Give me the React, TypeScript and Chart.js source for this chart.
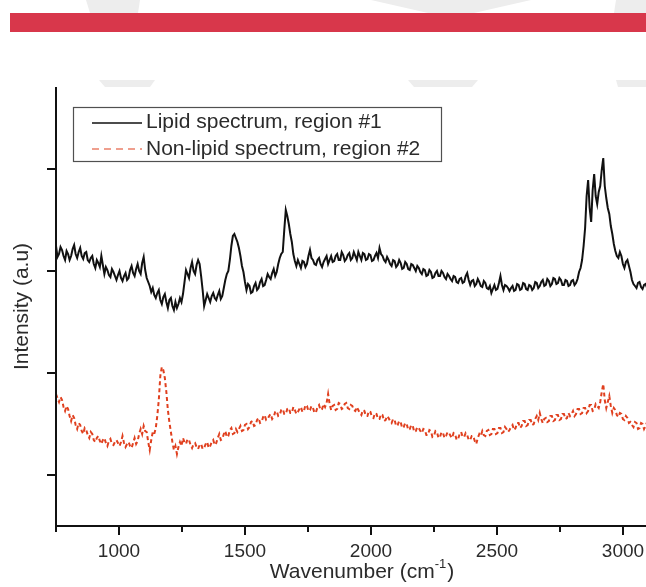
import { useEffect, useRef } from "react";
import { Chart, registerables } from "chart.js";

Chart.register(...registerables);

// Wavenumber grid (cm^-1) on which both spectra were sampled
const WN_START = 750;
const WN_STEP = 6;

// Intensity (a.u.) of the lipid spectrum, region #1
const LIPID = [
  280, 269, 272, 279, 276, 270, 266, 275, 272, 266, 270, 277, 281, 272, 268, 274, 278, 270, 267, 273,
  274, 266, 264, 268, 270, 262, 258, 266, 263, 259, 270, 261, 252, 259, 256, 251, 249, 257, 254, 250,
  246, 251, 255, 248, 245, 250, 253, 246, 248, 256, 260, 253, 250, 257, 262, 255, 252, 263, 269, 256,
  248, 244, 240, 234, 238, 231, 228, 233, 236, 226, 222, 229, 232, 224, 218, 226, 228, 220, 216, 224,
  218, 222, 228, 224, 232, 244, 256, 252, 248, 258, 264, 255, 252, 261, 266, 262, 250, 236, 220, 226,
  232, 228, 224, 230, 233, 228, 226, 231, 235, 227, 230, 238, 246, 252, 255, 266, 280, 290, 292, 288,
  284, 278, 270, 260, 254, 244, 236, 242, 240, 233, 234, 240, 243, 236, 238, 244, 247, 240, 241, 246,
  252, 249, 247, 253, 257, 250, 254, 262, 268, 272, 274, 296, 316, 310, 302, 292, 284, 272, 265, 260,
  266, 262, 258, 265, 264, 259, 262, 270, 276, 268, 266, 262, 261, 266, 268, 262, 259, 264, 267, 270,
  262, 266, 270, 264, 265, 270, 272, 266, 266, 274, 271, 265, 267, 271, 273, 266, 268, 274, 270, 266,
  274, 270, 266, 273, 272, 266, 267, 272, 271, 265, 266, 270, 273, 268, 278, 272, 270, 266, 264, 269,
  266, 262, 260, 266, 265, 259, 261, 266, 263, 257, 258, 264, 262, 257, 256, 262, 261, 258, 255, 260,
  258, 254, 252, 257, 256, 250, 251, 256, 254, 248, 249, 253, 255, 250, 250, 255, 253, 249, 247, 252,
  250, 247, 245, 250, 249, 244, 243, 247, 248, 243, 244, 250, 253, 246, 241, 245, 246, 240, 242, 247,
  244, 240, 239, 245, 243, 238, 237, 240, 233, 237, 241, 236, 237, 243, 250, 241, 236, 241, 240, 238,
  235, 238, 240, 235, 236, 242, 241, 236, 237, 243, 242, 237, 236, 241, 240, 236, 238, 244, 243, 238,
  240, 244, 246, 240, 241, 247, 245, 240, 242, 248, 247, 242, 243, 248, 246, 241, 241, 246, 245, 240,
  241, 245, 246, 241, 243, 247, 254, 258, 266, 280, 298, 330, 346, 318, 304, 336, 352, 330, 322, 334,
  340, 356, 368, 340, 328, 318, 312, 300, 292, 282, 275, 270, 268, 274, 270, 262, 258, 264, 266, 260,
  254, 246, 242, 240, 238, 243, 244, 239, 237, 241, 242, 238, 240, 245, 244,
];

// Intensity (a.u.) of the non-lipid spectrum, region #2
const NON_LIPID = [
  132, 128, 124, 129, 126, 119, 115, 120, 117, 110, 105, 111, 108, 101, 97, 103, 101, 95, 92, 98,
  96, 91, 88, 94, 92, 86, 84, 88, 90, 85, 82, 86, 88, 83, 80, 85, 87, 82, 81, 84,
  86, 83, 80, 84, 90, 83, 79, 82, 84, 80, 78, 83, 88, 82, 85, 92, 97, 92, 100, 95,
  94, 84, 76, 86, 94, 92, 98, 110, 126, 150, 159, 156, 148, 134, 116, 104, 94, 84, 76, 80,
  72, 79, 84, 80, 88, 84, 82, 87, 86, 81, 78, 82, 83, 79, 77, 81, 82, 77, 78, 82,
  84, 78, 80, 84, 86, 81, 83, 88, 92, 86, 87, 92, 95, 89, 90, 96, 98, 92, 93, 97,
  94, 97, 100, 95, 96, 101, 102, 97, 99, 104, 105, 100, 101, 106, 108, 103, 104, 109, 111, 106,
  107, 110, 112, 107, 109, 114, 115, 110, 111, 116, 117, 112, 112, 117, 118, 113, 113, 119, 116, 112,
  114, 117, 119, 114, 115, 121, 120, 115, 116, 120, 118, 113, 114, 119, 121, 116, 117, 122, 119, 123,
  132, 122, 116, 120, 121, 116, 117, 123, 122, 117, 118, 122, 123, 118, 117, 121, 120, 116, 115, 119,
  116, 113, 111, 116, 115, 110, 110, 115, 114, 109, 108, 113, 112, 107, 107, 112, 111, 105, 106, 110,
  108, 105, 103, 107, 106, 100, 101, 105, 104, 98, 99, 103, 102, 96, 97, 101, 100, 94, 95, 99,
  98, 95, 93, 97, 96, 91, 91, 96, 95, 89, 90, 95, 94, 88, 89, 94, 93, 88, 90, 94,
  93, 90, 88, 93, 92, 86, 87, 92, 94, 89, 89, 93, 91, 86, 86, 90, 90, 85, 82, 88,
  92, 90, 95, 91, 90, 95, 96, 91, 92, 97, 97, 92, 93, 98, 98, 93, 94, 99, 97, 94,
  96, 99, 101, 96, 98, 103, 103, 98, 100, 105, 105, 100, 101, 106, 106, 101, 102, 107, 110, 106,
  113, 107, 103, 107, 108, 104, 105, 110, 110, 105, 106, 111, 111, 106, 107, 112, 112, 107, 108, 113,
  110, 112, 115, 110, 112, 117, 117, 112, 113, 118, 118, 113, 115, 121, 121, 115, 116, 122, 120, 118,
  124, 134, 142, 126, 118, 124, 130, 120, 113, 118, 116, 111, 109, 113, 112, 107, 106, 110, 108, 103,
  104, 101, 99, 104, 103, 97, 98, 103, 102, 97, 100, 104, 103, 98, 99,
];

const X_MIN = 750;
const X_MAX = 3179;
const X_TICKS = [750, 1000, 1250, 1500, 1750, 2000, 2250, 2500, 2750, 3000];
const X_TICK_LABELS = ["", "1000", "", "1500", "", "2000", "", "2500", "", "3000"];
const Y_MIN = 0;
const Y_MAX = 439;
const Y_TICKS = [51, 153, 255, 357];

const SERIES_LABELS = ["Lipid spectrum, region #1", "Non-lipid spectrum, region #2"];
const X_TITLE = "Wavenumber (cm";
const X_TITLE_SUP = "-1";
const X_TITLE_END = ")";
const Y_TITLE = "Intensity (a.u)";

const FONT = "'Liberation Sans', Arial, Helvetica, sans-serif";
const TEXT = "#2b2b2b";
const BLACK = "#111111";
const RED = "#e0401f";

const decorPlugin = {
  id: "decor",
  beforeDraw(chart: any) {
    const ctx = chart.ctx as CanvasRenderingContext2D;
    ctx.save();
    ctx.fillStyle = "#ffffff";
    ctx.fillRect(0, 0, chart.width, chart.height);
    // faint watermark fragments
    ctx.fillStyle = "#ededed";
    const polys: number[][][] = [
      [[86, 0], [140, 0], [138, 13], [90, 13]],
      [[371, 0], [531, 0], [474, 13], [428, 13]],
      [[616, 0], [700, 0], [700, 13], [614, 13]],
      [[99, 80], [155, 80], [150, 87], [105, 87]],
      [[408, 80], [478, 80], [472, 87], [414, 87]],
      [[616, 80], [700, 80], [700, 87], [618, 87]],
    ];
    polys.forEach((p) => {
      ctx.beginPath();
      ctx.moveTo(p[0][0], p[0][1]);
      for (let k = 1; k < p.length; k++) ctx.lineTo(p[k][0], p[k][1]);
      ctx.closePath();
      ctx.fill();
    });
    // red banner
    ctx.fillStyle = "#d8374b";
    ctx.fillRect(10, 13, chart.width - 10, 19);
    ctx.restore();
  },
  afterDraw(chart: any) {
    const ctx = chart.ctx as CanvasRenderingContext2D;
    const area = chart.chartArea;
    const xs = chart.scales.x;
    const ys = chart.scales.y;
    ctx.save();
    ctx.strokeStyle = BLACK;
    ctx.lineWidth = 2;
    // axis lines
    ctx.beginPath();
    ctx.moveTo(area.left, area.top);
    ctx.lineTo(area.left, area.bottom + 1);
    ctx.stroke();
    ctx.beginPath();
    ctx.moveTo(area.left - 1, area.bottom);
    ctx.lineTo(area.right, area.bottom);
    ctx.stroke();
    // x ticks + labels
    ctx.fillStyle = TEXT;
    ctx.font = `19px ${FONT}`;
    ctx.textAlign = "center";
    ctx.textBaseline = "alphabetic";
    X_TICKS.forEach((t, i) => {
      const px = Math.round(xs.getPixelForValue(t));
      const major = X_TICK_LABELS[i] !== "";
      ctx.beginPath();
      ctx.moveTo(px, area.bottom);
      ctx.lineTo(px, area.bottom + (major ? 9 : 6));
      ctx.stroke();
      if (major) ctx.fillText(X_TICK_LABELS[i], px, 557);
    });
    // y ticks
    Y_TICKS.forEach((t) => {
      const py = Math.round(ys.getPixelForValue(t));
      ctx.beginPath();
      ctx.moveTo(area.left - 9, py);
      ctx.lineTo(area.left, py);
      ctx.stroke();
    });
    // x title with superscript
    ctx.font = `21px ${FONT}`;
    const supFont = `13px ${FONT}`;
    const w1 = ctx.measureText(X_TITLE).width;
    ctx.font = supFont;
    const w2 = ctx.measureText(X_TITLE_SUP).width;
    ctx.font = `21px ${FONT}`;
    const w3 = ctx.measureText(X_TITLE_END).width;
    const total = w1 + w2 + w3 + 1;
    const cx = (area.left + area.right) / 2;
    let sx = cx - total / 2;
    ctx.textAlign = "left";
    ctx.fillText(X_TITLE, sx, 578);
    sx += w1;
    ctx.font = supFont;
    ctx.fillText(X_TITLE_SUP, sx, 568);
    sx += w2 + 1;
    ctx.font = `21px ${FONT}`;
    ctx.fillText(X_TITLE_END, sx, 578);
    // y title
    ctx.save();
    ctx.translate(22, (area.top + area.bottom) / 2);
    ctx.rotate(-Math.PI / 2);
    ctx.textAlign = "center";
    ctx.textBaseline = "middle";
    ctx.fillText(Y_TITLE, 0, 0);
    ctx.restore();
    // legend
    ctx.strokeStyle = "#505050";
    ctx.lineWidth = 1.2;
    ctx.strokeRect(73.5, 107.5, 368, 54);
    ctx.lineWidth = 1.6;
    ctx.strokeStyle = BLACK;
    ctx.setLineDash([]);
    ctx.beginPath();
    ctx.moveTo(92, 123);
    ctx.lineTo(142, 123);
    ctx.stroke();
    ctx.strokeStyle = RED;
    ctx.lineWidth = 1.2;
    ctx.setLineDash([7, 5]);
    ctx.beginPath();
    ctx.moveTo(92, 149);
    ctx.lineTo(142, 149);
    ctx.stroke();
    ctx.setLineDash([]);
    ctx.fillStyle = TEXT;
    ctx.font = `21px ${FONT}`;
    ctx.textAlign = "left";
    ctx.textBaseline = "alphabetic";
    ctx.fillText(SERIES_LABELS[0], 146, 128);
    ctx.fillText(SERIES_LABELS[1], 146, 155);
    ctx.restore();
  },
};

export default function App() {
  const canvasRef = useRef<HTMLCanvasElement | null>(null);

  useEffect(() => {
    const canvas = canvasRef.current;
    if (!canvas) return;
    const toPoints = (arr: number[]) =>
      arr.map((v, i) => ({ x: WN_START + i * WN_STEP, y: v }));
    const chart = new Chart(canvas, {
      type: "line",
      data: {
        datasets: [
          {
            label: SERIES_LABELS[0],
            data: toPoints(LIPID),
            borderColor: BLACK,
            borderWidth: 2,
            pointRadius: 0,
            tension: 0,
            fill: false,
          },
          {
            label: SERIES_LABELS[1],
            data: toPoints(NON_LIPID),
            borderColor: RED,
            borderWidth: 2,
            borderDash: [4, 3],
            pointRadius: 0,
            tension: 0,
            fill: false,
          },
        ],
      },
      options: {
        responsive: false,
        animation: false,
        devicePixelRatio: 1,
        layout: { padding: { left: 56, right: 32, top: 87, bottom: 61 } },
        scales: {
          x: { type: "linear", display: false, min: X_MIN, max: X_MAX },
          y: { type: "linear", display: false, min: Y_MIN, max: Y_MAX },
        },
        plugins: {
          legend: { display: false },
          tooltip: { enabled: false },
        },
      },
      plugins: [decorPlugin],
    });
    return () => chart.destroy();
  }, []);

  return (
    <div
      style={{
        position: "fixed",
        left: 0,
        top: 0,
        width: 646,
        height: 587,
        overflow: "hidden",
        background: "#fff",
      }}
    >
      <canvas
        ref={canvasRef}
        width={700}
        height={587}
        style={{ display: "block", width: 700, height: 587 }}
      />
    </div>
  );
}
